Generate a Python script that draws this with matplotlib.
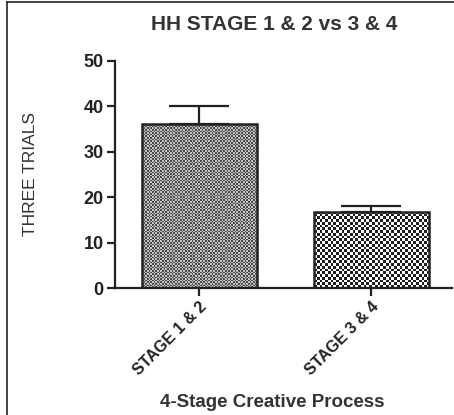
import numpy as np
import matplotlib
matplotlib.use('Agg')
import matplotlib.pyplot as plt
from matplotlib.lines import Line2D

plt.rcParams['font.family'] = ['Liberation Sans', 'DejaVu Sans']

groups = ['STAGE 1 & 2', 'STAGE 3 & 4']
means = [36.0, 16.8]
sem = [4.1, 1.2]
yticks = [0, 10, 20, 30, 40, 50]

fig = plt.figure(figsize=(4.54, 4.15), dpi=100)
ax = fig.add_axes([0.253, 0.306, 0.743, 0.548])

x = np.arange(len(groups))
bars = ax.bar(x, means, width=0.67, facecolor='none', edgecolor='#222222',
              linewidth=1.8, zorder=3)

# checkerboard fills clipped to each bar: fine grey one, coarse black/white one
fills = [(70, 100, '#c4c4c4', '#4a4a4a'), (42, 28, '#ffffff', '#1e1e1e')]
for bar, (nx, ny, c0, c1) in zip(bars, fills):
    board = (np.add.outer(np.arange(ny), np.arange(nx)) % 2).astype(float)
    cmap = matplotlib.colors.ListedColormap([c0, c1])
    x0, w, h = bar.get_x(), bar.get_width(), bar.get_height()
    im = ax.imshow(board, cmap=cmap, interpolation='nearest', aspect='auto',
                   extent=[x0, x0 + w, 0, h], zorder=2)
    im.set_clip_path(bar)

ax.errorbar(x, means, yerr=[np.zeros(len(sem)), sem], fmt='none',
            ecolor='#222222', elinewidth=1.6, capsize=21.5, capthick=1.6, zorder=4)

ax.set_xlim(-0.49, 1.47)
ax.set_ylim(0, 50)
ax.set_yticks(yticks)
ax.set_xticks(x)
ax.set_xticklabels(groups, rotation=45, ha='right', rotation_mode='anchor',
                   fontsize=11.5, fontweight='bold', color='#222222')
for lab in ax.get_yticklabels():
    lab.set_fontsize(13)
    lab.set_fontweight('bold')
    lab.set_color('#222222')

for side in ['top', 'right']:
    ax.spines[side].set_visible(False)
for side in ['left', 'bottom']:
    ax.spines[side].set_linewidth(1.6)
    ax.spines[side].set_color('#222222')
ax.tick_params(axis='both', width=1.6, length=6, color='#222222', pad=2)

fig.text(0.605, 0.94, 'HH STAGE 1 & 2 vs 3 & 4', ha='center', va='center',
         fontsize=15, fontweight='bold', color='#333333')
fig.text(0.068, 0.58, 'THREE TRIALS', rotation=90, ha='center', va='center',
         fontsize=12.5, color='#333333')
fig.text(0.6, 0.03, '4-Stage Creative Process', ha='center', va='center',
         fontsize=13.5, fontweight='bold', color='#333333')

# frame lines along the top and left edge
fig.add_artist(Line2D([0.016, 1.0], [0.995, 0.995], color='#222222', lw=1.2))
fig.add_artist(Line2D([0.016, 0.016], [0.0, 0.995], color='#222222', lw=1.2))

fig.savefig('out.png', dpi=100)
